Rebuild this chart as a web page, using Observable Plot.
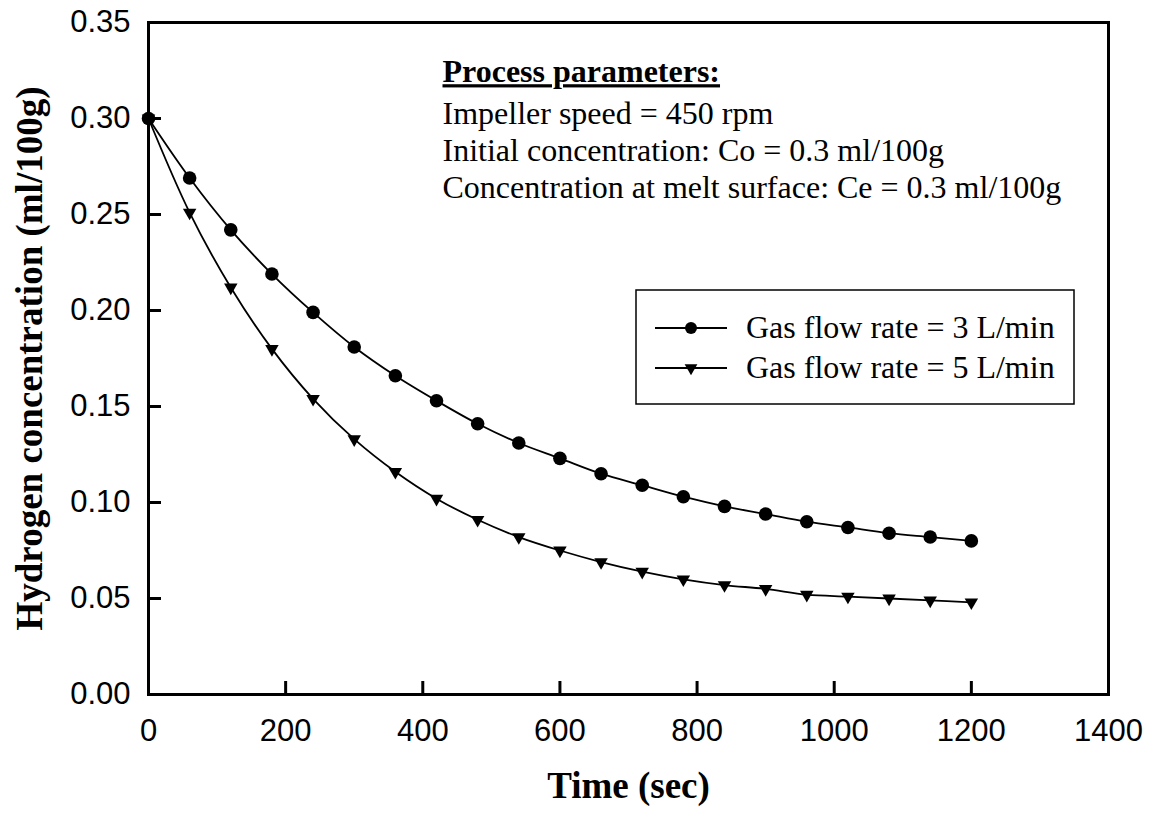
<!DOCTYPE html>
<html>
<head>
<meta charset="utf-8">
<script src="https://cdn.jsdelivr.net/npm/d3@7"></script>
<script src="https://cdn.jsdelivr.net/npm/@observablehq/plot@0.6"></script>
<style>
  body { margin: 0; background: #fff; }
  #chart { width: 1151px; height: 813px; }
</style>
</head>
<body>
<div id="chart"></div>
<script>
// ---- data ----
const times = [0, 60, 120, 180, 240, 300, 360, 420, 480, 540, 600, 660, 720, 780, 840, 900, 960, 1020, 1080, 1140, 1200];
const conc3 = [0.300, 0.269, 0.242, 0.219, 0.199, 0.181, 0.166, 0.153, 0.141, 0.131, 0.123, 0.115, 0.109, 0.103, 0.098, 0.094, 0.090, 0.087, 0.084, 0.082, 0.080];
const conc5 = [0.300, 0.251, 0.212, 0.180, 0.154, 0.133, 0.116, 0.102, 0.091, 0.082, 0.075, 0.069, 0.064, 0.060, 0.057, 0.055, 0.052, 0.051, 0.050, 0.049, 0.048];
const seriesNames = ["Gas flow rate = 3 L/min", "Gas flow rate = 5 L/min"];
const xTicks = [0, 200, 400, 600, 800, 1000, 1200, 1400];
const yTicks = [0, 0.05, 0.10, 0.15, 0.20, 0.25, 0.30, 0.35];
const xTitle = "Time (sec)";
const yTitle = "Hydrogen concentration (ml/100g)";
const annoTitle = "Process parameters:";
const annoLines = ["Impeller speed = 450 rpm", "Initial concentration: Co = 0.3 ml/100g", "Concentration at melt surface: Ce = 0.3 ml/100g"];

const s3 = times.map((t, i) => ({t, c: conc3[i], s: seriesNames[0]}));
const s5 = times.map((t, i) => ({t, c: conc5[i], s: seriesNames[1]}));

const serif = "'Liberation Serif', 'Times New Roman', Times, serif";
const sans = "'Liberation Sans', Arial, Helvetica, sans-serif";

const W = 1151, H = 813;
const mL = 148, mR = 43, mT = 22, mB = 119;
const fw = W - mL - mR, fh = H - mT - mB;
const tick = 13;

const plot = Plot.plot({
  width: W, height: H,
  marginLeft: mL, marginRight: mR, marginTop: mT, marginBottom: mB,
  style: {fontFamily: sans, background: "#fff", color: "#000", overflow: "visible"},
  x: {domain: [0, 1400]},
  y: {domain: [0, 0.35]},
  marks: [
    Plot.line(s5, {x: "t", y: "c", stroke: "#000", strokeWidth: 1.8, curve: "catmull-rom"}),
    Plot.line(s3, {x: "t", y: "c", stroke: "#000", strokeWidth: 1.8, curve: "catmull-rom"}),
    Plot.dot(s5, {x: "t", y: "c", symbol: "triangle", r: 5.0, rotate: 180, fill: "#000", stroke: "none"}),
    Plot.dot(s3, {x: "t", y: "c", symbol: "circle", r: 6.8, fill: "#000", stroke: "none"}),
    Plot.tickX(xTicks, {x: d => d, insetTop: fh - tick, stroke: "#000", strokeWidth: 3}),
    Plot.tickY(yTicks, {y: d => d, insetRight: fw - tick, stroke: "#000", strokeWidth: 3}),
    Plot.frame({stroke: "#000", strokeWidth: 3}),
    Plot.axisX({ticks: xTicks, tickSize: 0, tickPadding: 24, tickFormat: d3.format("d"), fontSize: 31, label: null}),
    Plot.axisY({ticks: yTicks, tickSize: 0, tickPadding: 18, tickFormat: d3.format(".2f"), fontSize: 31, label: null}),
    Plot.text([xTitle], {frameAnchor: "bottom", dy: 92, text: d => d, textAnchor: "middle", lineAnchor: "middle", fontSize: 37, fontWeight: "bold", fontFamily: serif}),
    Plot.text([yTitle], {frameAnchor: "left", dx: -118, rotate: -90, text: d => d, textAnchor: "middle", lineAnchor: "middle", fontSize: 37, fontWeight: "bold", fontFamily: serif}),
    Plot.text([annoTitle], {frameAnchor: "top-left", dx: 294, dy: 37, text: d => d, textAnchor: "start", lineAnchor: "top", fontSize: 32, fontWeight: "bold", fontFamily: serif, className: "anno-title"}),
    Plot.text([annoLines.join("\n")], {frameAnchor: "top-left", dx: 294, dy: 75, text: d => d, textAnchor: "start", lineAnchor: "top", lineHeight: 1.156, fontSize: 32, fontFamily: serif})
  ]
});

document.getElementById("chart").appendChild(plot);

d3.select(plot).selectAll(".anno-title text")
  .style("text-decoration", "underline")
  .style("text-decoration-thickness", "3px");

// ---- legend ----
const svg = d3.select(plot);
const lg = svg.append("g").attr("class", "legend");
const bx = 636, by = 290, bw = 438, bh = 114;
lg.append("rect").attr("x", bx).attr("y", by).attr("width", bw).attr("height", bh)
  .attr("fill", "#fff").attr("stroke", "#000").attr("stroke-width", 1.5);
const rows = [328, 368];
seriesNames.forEach((name, i) => {
  const cy = rows[i];
  lg.append("line").attr("x1", 655).attr("x2", 727).attr("y1", cy).attr("y2", cy)
    .attr("stroke", "#000").attr("stroke-width", 1.8);
  if (i === 0) {
    lg.append("circle").attr("cx", 691).attr("cy", cy).attr("r", 6).attr("fill", "#000");
  } else {
    lg.append("path").attr("d", d3.symbol(d3.symbolTriangle, 70)())
      .attr("transform", `translate(691,${cy}) rotate(180)`).attr("fill", "#000");
  }
  lg.append("text").attr("x", 746).attr("y", cy).attr("dy", "0.32em")
    .attr("text-anchor", "start")
    .attr("font-family", serif).attr("font-size", 32).attr("fill", "#000").text(name);
});
</script>
</body>
</html>
